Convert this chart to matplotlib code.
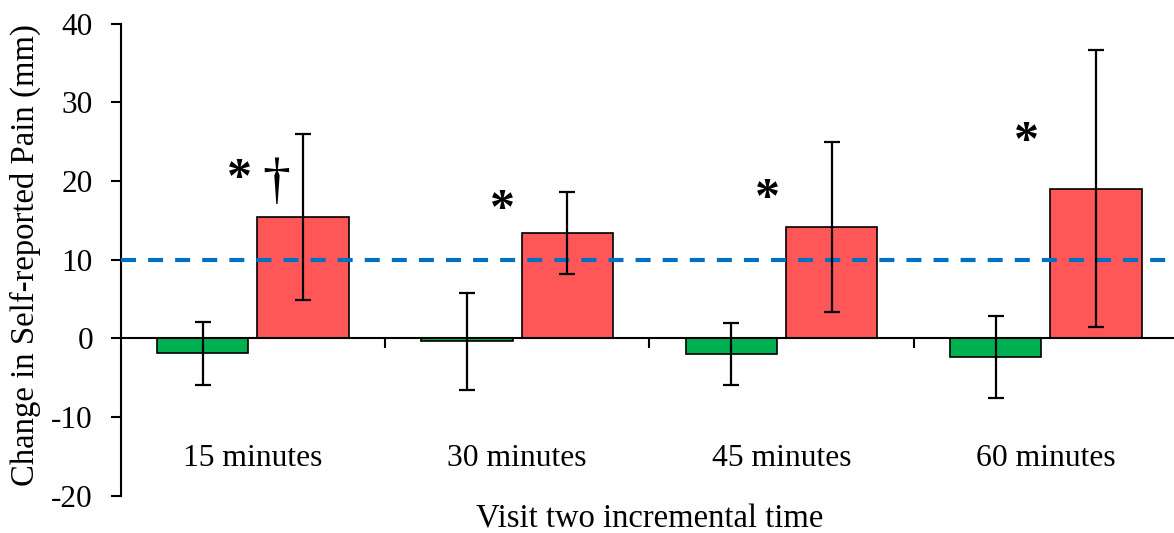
import matplotlib.pyplot as plt
import numpy as np

# mean change in pain (mm) and error bars for each visit time
categories = ['15 minutes', '30 minutes', '45 minutes', '60 minutes']
green_vals = [-1.9, -0.4, -2.0, -2.4]
green_err = [4.0, 6.2, 3.9, 5.2]
red_vals = [15.4, 13.4, 14.1, 19.0]
red_err = [10.5, 5.2, 10.8, 17.6]
threshold = 10

# significance markers above each group
star_y = [20.1, 16.2, 17.6, 24.8]
star_dx = [-0.05, -0.055, -0.055, -0.075]
dagger_y = [19.7]

plt.rcParams['font.family'] = ['Liberation Serif', 'DejaVu Serif']
plt.rcParams['axes.unicode_minus'] = False

fig = plt.figure(figsize=(11.74, 5.33), dpi=100)
ax = fig.add_axes([0.1028, 0.0702, 0.9006, 0.8857])

x = np.arange(len(categories))
w = 0.345
off = 0.19
err_kw = dict(ecolor='black', elinewidth=1.6, capsize=5.8, capthick=1.6, zorder=4)
ax.bar(x - off, green_vals, w, color='#00B050', edgecolor='black', linewidth=1.2,
       yerr=green_err, error_kw=err_kw, zorder=2)
ax.bar(x + off, red_vals, w, color='#FF5757', edgecolor='black', linewidth=1.2,
       yerr=red_err, error_kw=err_kw, zorder=2)

ax.axhline(threshold, color='#0070C0', lw=3, linestyle=(0, (3.6, 2.9)), zorder=3)

ax.set_xlim(-0.5, 3.5)
ax.set_ylim(-20, 40)
ax.set_yticks(range(-20, 41, 10))
ax.set_xticks([0.5, 1.5, 2.5])
ax.set_xticklabels([])

ax.spines['top'].set_visible(False)
ax.spines['right'].set_visible(False)
ax.spines['bottom'].set_position(('data', 0))
ax.spines['bottom'].set_linewidth(1.5)
ax.spines['left'].set_linewidth(1.5)
ax.tick_params(axis='y', direction='out', length=7, width=1.5, pad=13, labelsize=22.5)
ax.tick_params(axis='x', direction='out', length=7, width=1.5)

for i, c in enumerate(categories):
    ax.text(i, -15.3, c, ha='center', va='center', fontsize=22.8)

for i, y in enumerate(star_y):
    ax.text(i + star_dx[i], y, '*', ha='center', va='center', fontsize=36,
            fontweight='bold')
for i, y in enumerate(dagger_y):
    ax.text(i + 0.09, y, '†', ha='center', va='center', fontsize=40)

ax.text(0.5, -0.05, 'Visit two incremental time', transform=ax.transAxes,
        ha='center', va='center', fontsize=23.5)
fig.text(0.0213, 0.5216, 'Change in Self-reported Pain (mm)', rotation=90,
         ha='center', va='center', fontsize=23.6)

fig.savefig('out.png', dpi=100)
